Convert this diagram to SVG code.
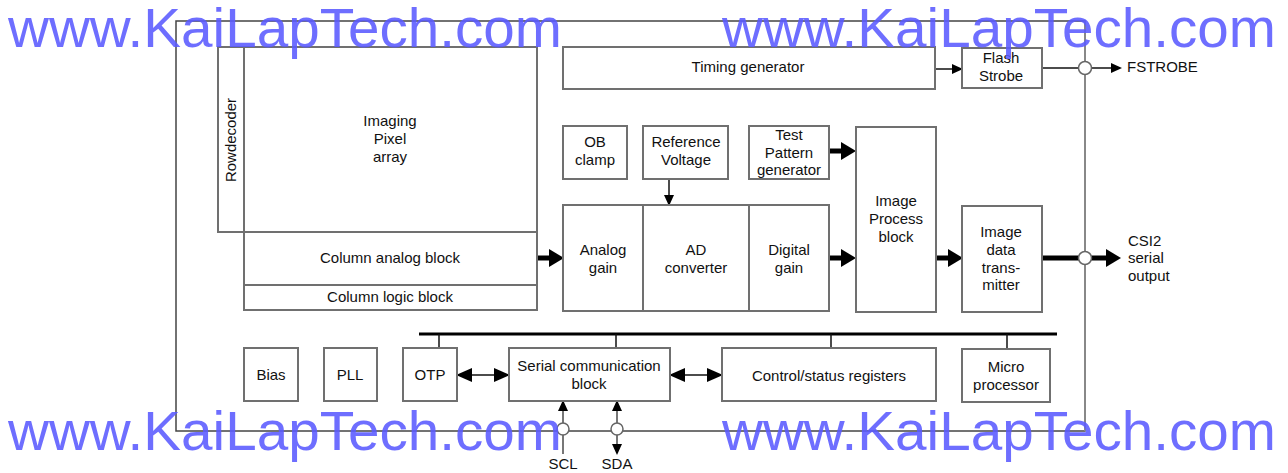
<svg xmlns="http://www.w3.org/2000/svg" width="1288" height="473" viewBox="0 0 1288 473">
<style>
.b{fill:#fff;stroke:#707070;stroke-width:2}
.t{font-family:"Liberation Sans",Arial,sans-serif;font-size:15px;fill:#111;text-anchor:middle}
.l{font-family:"Liberation Sans",Arial,sans-serif;font-size:15px;fill:#111}
.thin{stroke:#111;stroke-width:1.5;fill:none}
.thick{stroke:#000;stroke-width:5;fill:none}
.wm{font-family:"Liberation Sans",Arial,sans-serif;font-size:55px;fill:#5a5aff;fill-opacity:0.88}
</style>
<defs>
<marker id="big" markerUnits="userSpaceOnUse" markerWidth="15" markerHeight="18" refX="4" refY="9" orient="auto"><path d="M0,0 L15,9 L0,18 z" fill="#000"/></marker>
<marker id="sm" markerUnits="userSpaceOnUse" markerWidth="11" markerHeight="10" refX="9" refY="5" orient="auto-start-reverse"><path d="M0,0 L11,5 L0,10 z" fill="#000"/></marker>
<marker id="md" markerUnits="userSpaceOnUse" markerWidth="16" markerHeight="14" refX="14" refY="7" orient="auto-start-reverse"><path d="M0,0 L16,7 L0,14 z" fill="#000"/></marker>
</defs>
<rect width="1288" height="473" fill="#fff"/>
<g id="frame">
<rect x="176" y="21" width="909" height="410" fill="none" stroke="#444" stroke-width="1.5"/>
<line x1="1085" y1="21" x2="1085" y2="431" stroke="#888" stroke-width="2"/>
</g>
<g id="connectors">
<line class="thick" x1="537" y1="258" x2="553" y2="258" marker-end="url(#big)"/>
<line class="thick" x1="829" y1="151" x2="845" y2="151" marker-end="url(#big)"/>
<line class="thick" x1="829" y1="258" x2="845" y2="258" marker-end="url(#big)"/>
<line class="thick" x1="936" y1="258" x2="952" y2="258" marker-end="url(#big)"/>
<line class="thick" x1="1042" y1="258" x2="1110" y2="258" marker-end="url(#big)"/>
<line class="thin" x1="669" y1="179" x2="669" y2="204" marker-end="url(#sm)"/>
<line class="thin" x1="935" y1="69" x2="961" y2="69" marker-end="url(#sm)"/>
<line class="thin" x1="1042" y1="68" x2="1120" y2="68" marker-end="url(#sm)"/>
<line x1="419" y1="334" x2="1057" y2="334" stroke="#000" stroke-width="3"/>
<line class="thin" x1="439" y1="334" x2="439" y2="348"/>
<line class="thin" x1="616" y1="334" x2="616" y2="348"/>
<line class="thin" x1="831" y1="334" x2="831" y2="348"/>
<line class="thin" x1="1007" y1="334" x2="1007" y2="349"/>
<line class="thin" x1="458" y1="375" x2="508" y2="375" marker-start="url(#md)" marker-end="url(#md)"/>
<line class="thin" x1="671" y1="375" x2="721" y2="375" marker-start="url(#md)" marker-end="url(#md)"/>
<line x1="563" y1="402" x2="563" y2="454" stroke="#777" stroke-width="2" marker-start="url(#sm)"/>
<line x1="617" y1="402" x2="617" y2="453" stroke="#777" stroke-width="2" marker-start="url(#sm)" marker-end="url(#sm)"/>
<circle cx="1085" cy="68" r="6.5" fill="#fff" stroke="#666" stroke-width="1.5"/>
<circle cx="1085" cy="258" r="6.5" fill="#fff" stroke="#666" stroke-width="1.5"/>
<circle cx="563" cy="429" r="6" fill="#fff" stroke="#666" stroke-width="1.5"/>
<circle cx="617" cy="429" r="6" fill="#fff" stroke="#666" stroke-width="1.5"/>
</g>
<g id="rowdecoder"><rect class="b" x="218" y="47" width="26" height="185"/><text class="t" transform="translate(236,140) rotate(-90)">Rowdecoder</text></g>
<g id="pixel-array"><rect class="b" x="244" y="47" width="293" height="185"/><text class="t" x="390" y="126">Imaging</text><text class="t" x="390" y="144">Pixel</text><text class="t" x="390" y="162">array</text></g>
<g id="column-analog"><rect class="b" x="244" y="232" width="293" height="53"/><text class="t" x="390" y="263">Column analog block</text></g>
<g id="column-logic"><rect class="b" x="244" y="285" width="293" height="25"/><text class="t" x="390" y="302">Column logic block</text></g>
<g id="timing"><rect class="b" x="563" y="47" width="372" height="42"/><text class="t" x="748" y="72">Timing generator</text></g>
<g id="flash"><rect class="b" x="962" y="48" width="80" height="40"/><text class="t" x="1001" y="63">Flash</text><text class="t" x="1001" y="81">Strobe</text></g>
<g id="ob-clamp"><rect class="b" x="563" y="126" width="64" height="53"/><text class="t" x="595" y="147">OB</text><text class="t" x="595" y="165">clamp</text></g>
<g id="ref-voltage"><rect class="b" x="643" y="126" width="85" height="53"/><text class="t" x="686" y="147">Reference</text><text class="t" x="686" y="165">Voltage</text></g>
<g id="test-pattern"><rect class="b" x="749" y="126" width="80" height="53"/><text class="t" x="789" y="140">Test</text><text class="t" x="789" y="157.5">Pattern</text><text class="t" x="789" y="175">generator</text></g>
<g id="analog-gain"><rect class="b" x="563" y="205" width="80" height="106"/><text class="t" x="603" y="255">Analog</text><text class="t" x="603" y="273">gain</text></g>
<g id="ad-converter"><rect class="b" x="643" y="205" width="106" height="106"/><text class="t" x="696" y="255">AD</text><text class="t" x="696" y="273">converter</text></g>
<g id="digital-gain"><rect class="b" x="749" y="205" width="80" height="106"/><text class="t" x="789" y="255">Digital</text><text class="t" x="789" y="273">gain</text></g>
<g id="image-process"><rect class="b" x="856" y="127" width="80" height="185"/><text class="t" x="896" y="206">Image</text><text class="t" x="896" y="224">Process</text><text class="t" x="896" y="242">block</text></g>
<g id="image-tx"><rect class="b" x="962" y="206" width="80" height="106"/><text class="t" x="1001" y="237">Image</text><text class="t" x="1001" y="255">data</text><text class="t" x="1001" y="272.5">trans-</text><text class="t" x="1001" y="290">mitter</text></g>
<g id="fstrobe-label"><text class="l" x="1127" y="72">FSTROBE</text></g>
<g id="csi2-label"><text class="l" x="1128" y="246">CSI2</text><text class="l" x="1128" y="263">serial</text><text class="l" x="1128" y="281">output</text></g>
<g id="bias"><rect class="b" x="244" y="348" width="54" height="53"/><text class="t" x="271" y="380">Bias</text></g>
<g id="pll"><rect class="b" x="324" y="348" width="53" height="53"/><text class="t" x="350" y="380">PLL</text></g>
<g id="otp"><rect class="b" x="403" y="348" width="54" height="53"/><text class="t" x="430" y="380">OTP</text></g>
<g id="serial"><rect class="b" x="509" y="348" width="161" height="53"/><text class="t" x="589" y="371">Serial communication</text><text class="t" x="589" y="389">block</text></g>
<g id="control"><rect class="b" x="722" y="348" width="214" height="53"/><text class="t" x="829" y="381">Control/status registers</text></g>
<g id="micro"><rect class="b" x="962" y="349" width="88" height="53"/><text class="t" x="1006" y="372">Micro</text><text class="t" x="1006" y="390">processor</text></g>
<g id="pins"><text class="t" x="563" y="469">SCL</text><text class="t" x="617" y="469">SDA</text></g>
<g id="watermarks">
<text class="wm" x="8" y="47" textLength="554" lengthAdjust="spacingAndGlyphs">www.KaiLapTech.com</text>
<text class="wm" x="722" y="47" textLength="554" lengthAdjust="spacingAndGlyphs">www.KaiLapTech.com</text>
<text class="wm" x="8" y="450" textLength="554" lengthAdjust="spacingAndGlyphs">www.KaiLapTech.com</text>
<text class="wm" x="722" y="450" textLength="554" lengthAdjust="spacingAndGlyphs">www.KaiLapTech.com</text>
</g>
</svg>
